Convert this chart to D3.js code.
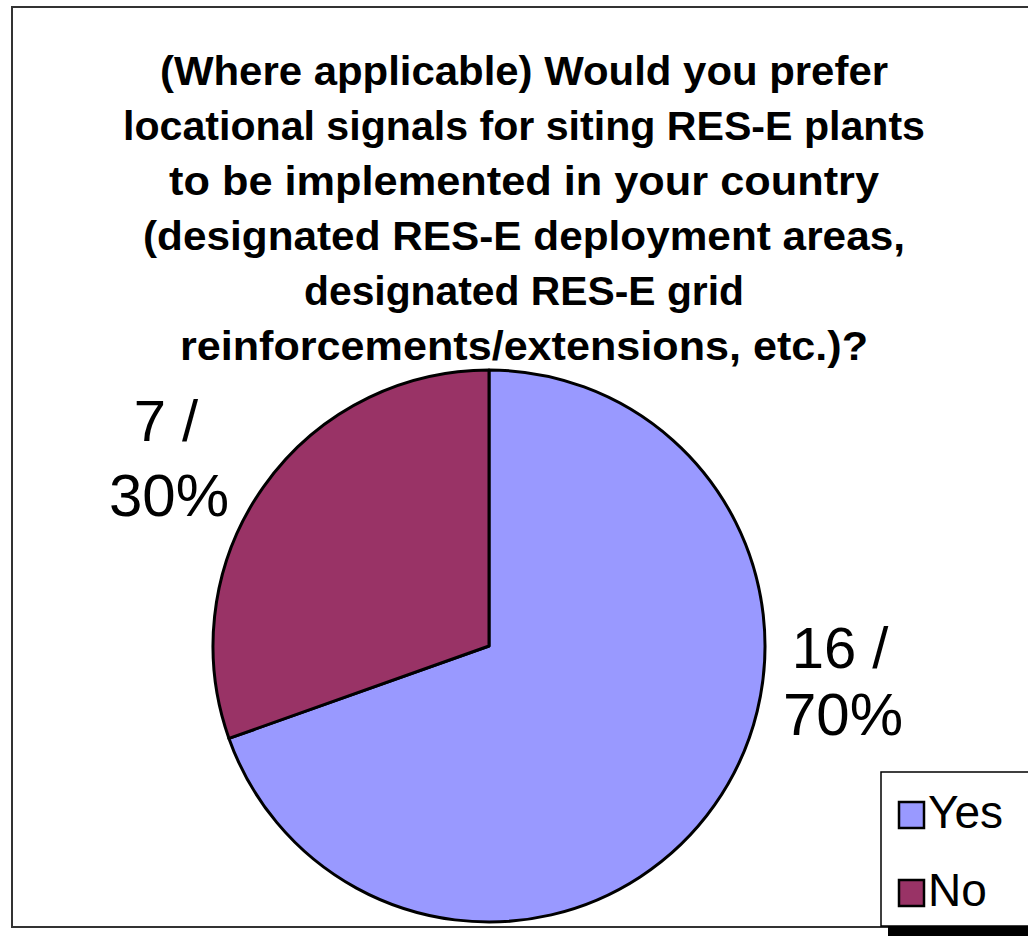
<!DOCTYPE html>
<html>
<head>
<meta charset="utf-8">
<script src="https://cdn.jsdelivr.net/npm/d3@7"></script>
<style>
  html, body { margin: 0; padding: 0; background: #fff; }
  svg { display: block; }
</style>
</head>
<body>
<svg id="chart" width="1028" height="936"></svg>
<script>
// ---- data ----
const categories = ["Yes", "No"];
const counts = [16, 7];
const percents = ["70%", "30%"];
const colors = ["#9999FF", "#993366"];
const titleLines = [
  "(Where applicable) Would you prefer",
  "locational signals for siting RES-E plants",
  "to be implemented in your country",
  "(designated RES-E deployment areas,",
  "designated RES-E grid",
  "reinforcements/extensions, etc.)?"
];

// ---- layout ----
const W = 1028, H = 936;
const svg = d3.select("#chart");
const font = "'Liberation Sans', Arial, sans-serif";

// outer frame
svg.append("rect")
  .attr("x", 12).attr("y", 7).attr("width", 1040).attr("height", 920)
  .attr("fill", "#fff").attr("stroke", "#333").attr("stroke-width", 2);

// title
const titleWidths = [728, 802, 710, 762, 440, 688];
const titleCenter = 524;
svg.append("g").selectAll("text")
  .data(titleLines)
  .join("text")
  .attr("x", titleCenter)
  .attr("y", (d, i) => 85 + i * 55)
  .attr("text-anchor", "middle")
  .attr("font-family", font)
  .attr("font-weight", "bold")
  .attr("font-size", 40)
  .attr("textLength", (d, i) => titleWidths[i])
  .attr("lengthAdjust", "spacingAndGlyphs")
  .attr("fill", "#000")
  .text(d => d);

// pie
const cx = 489, cy = 646, R = 276;
const pie = d3.pie().sort(null).value(d => d.value);
const data = categories.map((c, i) => ({ name: c, value: counts[i], pct: percents[i], color: colors[i] }));
const arcs = pie(data);
const arc = d3.arc().innerRadius(0).outerRadius(R);
const g = svg.append("g").attr("transform", `translate(${cx},${cy})`);
g.selectAll("path")
  .data(arcs)
  .join("path")
  .attr("d", arc)
  .attr("fill", d => d.data.color)
  .attr("stroke", "#000")
  .attr("stroke-width", 3)
  .attr("stroke-linejoin", "round");

// data labels (count / percent)
const labelPos = { "Yes": [840, 668, 735], "No": [166, 441, 516] };
const lg = svg.append("g");
arcs.forEach(a => {
  const p = labelPos[a.data.name];
  lg.append("text")
    .attr("x", p[0]).attr("y", p[1])
    .attr("text-anchor", "middle")
    .attr("font-family", font).attr("font-size", 58)
    .text(`${a.data.value} /`);
  lg.append("text")
    .attr("x", p[0] + 3).attr("y", p[2])
    .attr("text-anchor", "middle")
    .attr("font-family", font).attr("font-size", 60)
    .text(a.data.pct);
});

// legend
const lx = 881, ly = 772;
svg.append("rect").attr("x", lx + 7).attr("y", ly + 7).attr("width", 200).attr("height", 160).attr("fill", "#000");
svg.append("rect").attr("x", lx).attr("y", ly).attr("width", 200).attr("height", 154)
  .attr("fill", "#fff").attr("stroke", "#000").attr("stroke-width", 1.5);
const leg = svg.append("g").selectAll("g")
  .data(data)
  .join("g")
  .attr("transform", (d, i) => `translate(${lx + 18},${ly + 30 + i * 78})`);
leg.append("rect")
  .attr("x", 0).attr("y", 0).attr("width", 25).attr("height", 26)
  .attr("fill", d => d.color).attr("stroke", "#000").attr("stroke-width", 2.5);
leg.append("text")
  .attr("x", 29).attr("y", 26)
  .attr("font-family", font).attr("font-size", 46)
  .text(d => d.name);
</script>
</body>
</html>
